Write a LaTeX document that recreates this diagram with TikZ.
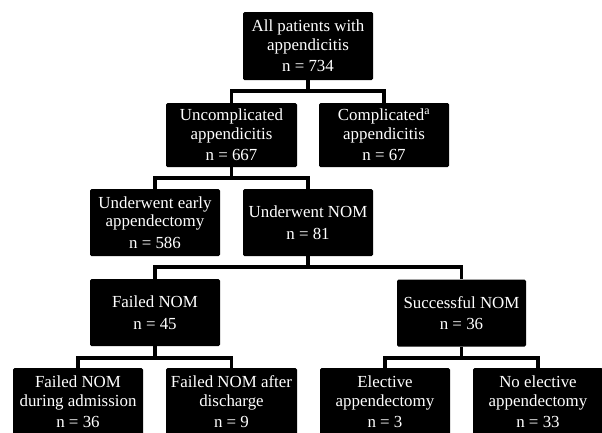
\documentclass[tikz,border=0pt]{standalone}
\usepackage{fontspec}
\setmainfont{Liberation Serif}
\begin{document}
\begin{tikzpicture}[x=1pt,y=-1pt,
  box/.style={fill=black, draw=none, rounded corners=1.5pt, text=white, align=center,
    minimum width=130pt, minimum height=67pt, inner sep=0pt,
    font=\fontsize{16.9}{18.5}\selectfont},
  link/.style={line width=3.3pt, draw=black}]
\useasboundingbox (0,0) rectangle (602,432);
\clip (0,0) rectangle (602,432);
% boxes
\node[box, minimum height=68pt] (all) at (308,46) {All patients with\\appendicitis\\[3pt]n = 734};
\node[box, minimum height=64pt, minimum width=131pt] (unc) at (231.5,135) {Uncomplicated\\appendicitis\\[3pt]n = 667};
\node[box, minimum height=64pt] (com) at (384,135) {Complicated\textsuperscript{a}\\appendicitis\\[3pt]n = 67};
\node[box] (early) at (155,222.5) {Underwent early\\appendectomy\\[3pt]n = 586};
\node[box] (nom) at (308,222.5) {Underwent NOM\\[3pt]n = 81};
\node[box] (fail) at (155,312.5) {Failed NOM\\[3pt]n = 45};
\node[box, minimum width=129pt] (succ) at (461.5,313) {Successful NOM\\[3pt]n = 36};
\node[box, minimum height=68pt] (fadm) at (78,402) {Failed NOM\\during admission\\[3pt]n = 36};
\node[box, minimum height=68pt, minimum width=131pt] (fdis) at (231.5,402) {Failed NOM after\\discharge\\[3pt]n = 9};
\node[box, minimum height=68pt] (elec) at (385,402) {Elective\\appendectomy\\[3pt]n = 3};
\node[box, minimum height=68pt] (noel) at (538,402) {No elective\\appendectomy\\[3pt]n = 33};
% bus levels
\coordinate (b1) at (0,91);
\coordinate (b2) at (0,178);
\coordinate (b3) at (0,267);
\coordinate (b4) at (0,358);
% connectors
\draw[link] (all.south) -- (all.south |- b1) -| (unc.north);
\draw[link] (all.south |- b1) -| (com.north);
\draw[link] (unc.south) -- (unc.south |- b2) -| (early.north);
\draw[link] (unc.south |- b2) -| (nom.north);
\draw[link] (nom.south) -- (nom.south |- b3) -| (fail.north);
\draw[link] (nom.south |- b3) -| (succ.north);
\draw[link] (fail.south) -- (fail.south |- b4) -| (fadm.north);
\draw[link] (fail.south |- b4) -| (fdis.north);
\draw[link] (succ.south) -- (succ.south |- b4) -| (elec.north);
\draw[link] (succ.south |- b4) -| (noel.north);
\end{tikzpicture}
\end{document}
